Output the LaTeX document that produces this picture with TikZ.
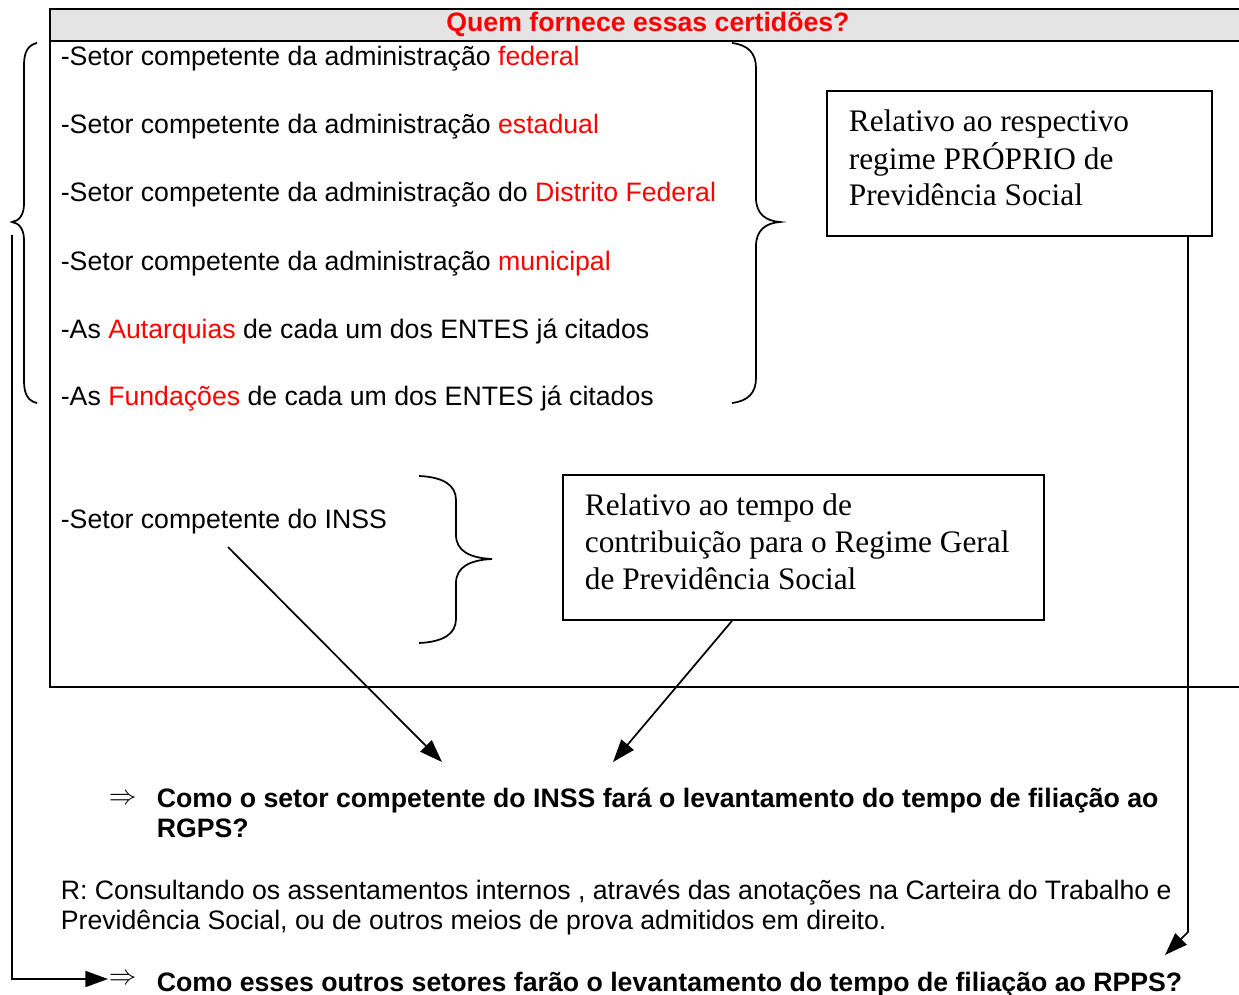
\documentclass[tikz,border=0pt]{standalone}
\usepackage{fontspec}
\setmainfont{Liberation Sans}
\newfontfamily\timesfont{Liberation Serif}
\usetikzlibrary{arrows.meta}
\definecolor{hdrgray}{RGB}{228,228,228}
\tikzset{every picture/.style={line width=1.3pt}}

\begin{document}
\begin{tikzpicture}[x=0.75pt,y=0.75pt,yscale=-1,xscale=1,
  item/.style={anchor=base west,inner sep=0pt,font=\fontsize{20}{23}\selectfont},
  ask/.style={anchor=base west,inner sep=0pt,align=left,font=\fontsize{20}{22.5}\selectfont\bfseries},
  note/.style={anchor=base west,inner sep=0pt,align=left,font=\fontsize{23.5}{27.75}\timesfont},
  bullet/.style={anchor=west,inner sep=0pt,font=\fontsize{20}{23}\selectfont},
  frame/.style={draw,inner sep=0pt},
  arr/.style={-{Triangle[length=17pt,width=12pt]}}]
\useasboundingbox (0,0) rectangle (1239,995);

%Shape: Table header
\fill[hdrgray] (50,9) rectangle (1250,41);
\draw[line width=1.7pt] (1250,9) -- (50,9) -- (50,687) -- (1250,687);
\draw[line width=1.7pt] (50,41) -- (1250,41);

% Text Node
\node[anchor=base,inner sep=0pt,font=\fontsize{20}{23}\selectfont\bfseries,text=red] (hdr) at (648,32) {Quem fornece essas certidões?};

% Text Node
\node[item] (fed) at (60,66) {-Setor competente da administração \textcolor{red}{federal}};
% Text Node
\node[item] (est) at (60,134) {-Setor competente da administração \textcolor{red}{estadual}};
% Text Node
\node[item] (df) at (60,202) {-Setor competente da administração do \textcolor{red}{Distrito Federal}};
% Text Node
\node[item] (mun) at (60,270) {-Setor competente da administração \textcolor{red}{municipal}};
% Text Node
\node[item] (aut) at (60,338) {-As \textcolor{red}{Autarquias} de cada um dos ENTES já citados};
% Text Node
\node[item] (fund) at (60,405) {-As \textcolor{red}{Fundações} de cada um dos ENTES já citados};
% Text Node
\node[item] (inss) at (60,528) {-Setor competente do INSS};

%Shape: Brace
\draw (37,43) .. controls (28,45) and (24,52) .. (24,65) -- (24,204) .. controls (24,215) and (19,221) .. (12,222) .. controls (19,223) and (24,229) .. (24,240) -- (24,381) .. controls (24,394) and (28,401) .. (37,403) ;
%Shape: Brace
\draw (732,43) .. controls (748,45) and (756,53) .. (756,68) -- (756,198) .. controls (756,214) and (766,221) .. (780,222) .. controls (766,223) and (756,230) .. (756,246) -- (756,378) .. controls (756,393) and (748,401) .. (732,403) ;
%Shape: Brace
\draw (419,476) .. controls (443,477) and (456,485) .. (456,500) -- (456,535) .. controls (456,551) and (470,558) .. (492,559) .. controls (470,560) and (456,567) .. (456,583) -- (456,619) .. controls (456,634) and (443,642) .. (419,643) ;

%Shape: Rectangle
\node[frame,minimum width=288.75pt,minimum height=108.75pt] (regprop) at (1019.5,163.5) {};
% Text Node
\node[note] (regpropTxt) at (848,206) {Relativo ao respectivo\\regime PRÓPRIO de\\Previdência Social};

%Shape: Rectangle
\node[frame,minimum width=360.75pt,minimum height=108.75pt] (rggeral) at (803.5,547.5) {};
% Text Node
\node[note] (rggeralTxt) at (584,589) {Relativo ao tempo de\\contribuição para o Regime Geral\\de Previdência Social};

% Text Node
\node[bullet] (bulA) at (108,799) {$\Rightarrow$};
\node[ask] (askA) at (156,837) {Como o setor competente do INSS fará o levantamento do tempo de filiação ao\\RGPS?};
% Text Node
\node[ask,font=\fontsize{20}{22.5}\selectfont] (resp) at (60,929) {R: Consultando os assentamentos internos , através das anotações na Carteira do Trabalho e\\Previdência Social, ou de outros meios de prova admitidos em direito.};
% Text Node
\node[bullet] (bulB) at (108,979) {$\Rightarrow$};
\node[ask] (askB) at (156,991) {Como esses outros setores farão o levantamento do tempo de filiação ao RPPS?};

\coordinate (inssFoot) at (228,547);
\coordinate (tipA) at (442,762);
\coordinate (tipB) at (613,762);
\coordinate (tipC) at (1165,955);

%Straight Lines
\draw[arr] (inssFoot) -- (tipA) ;
%Straight Lines
\draw[arr] (rggeral.south -| 732,0) -- (tipB) ;
%Straight Lines
\draw[arr] (regprop.south -| 1188,0) -- (1188,932) -- (tipC) ;
%Straight Lines
\draw[arr] (12,235) -- (bulB.west -| 12,0) -- (bulB.west) ;

\end{tikzpicture}
\end{document}
